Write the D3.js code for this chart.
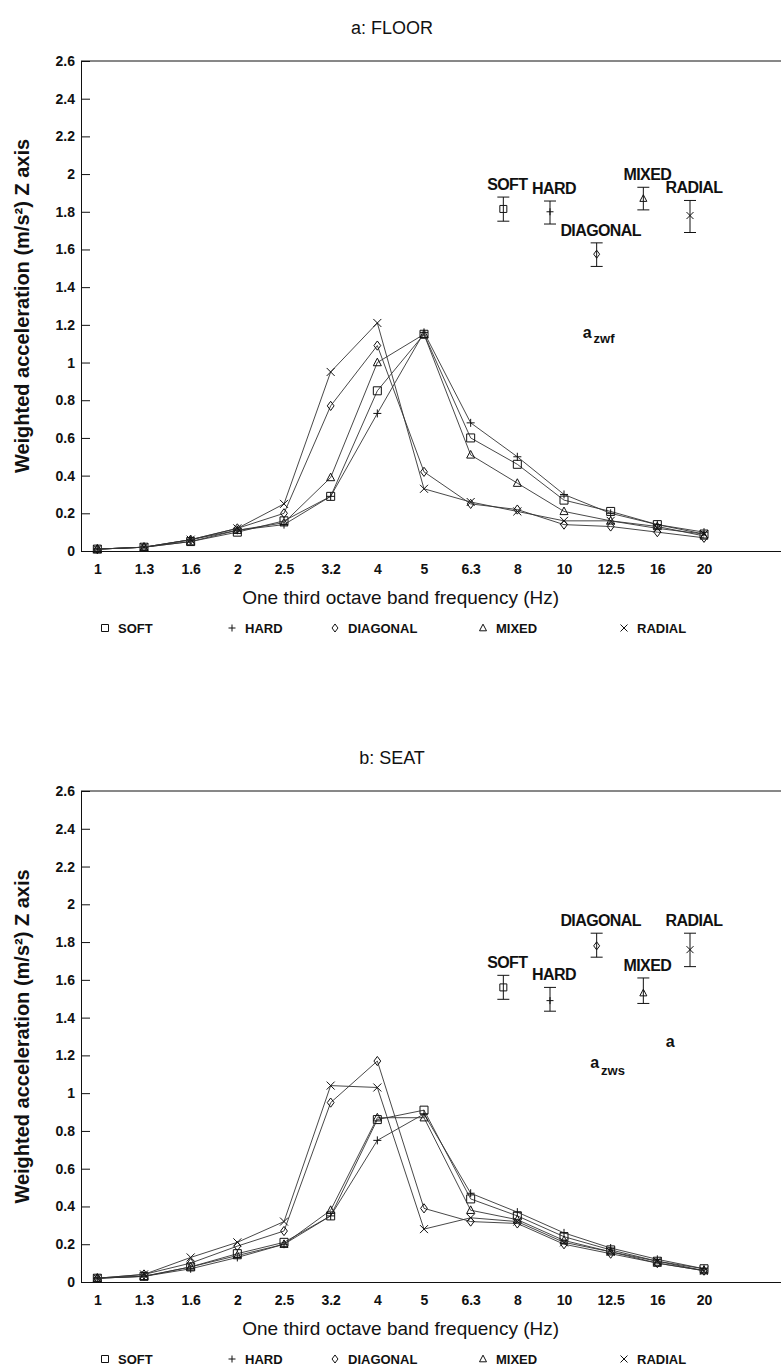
<!DOCTYPE html>
<html>
<head>
<meta charset="utf-8">
<script src="https://cdn.jsdelivr.net/npm/d3@7"></script>
<style>
  body { margin: 0; background: #fff; }
  svg { display: block; }
  text { font-family: "Liberation Sans", Arial, sans-serif; fill: #111; }
</style>
</head>
<body>
<svg id="chart" width="781" height="1368"></svg>
<script>
// one third octave band centre frequencies (Hz)
const categories = ["1", "1.3", "1.6", "2", "2.5", "3.2", "4", "5", "6.3", "8", "10", "12.5", "16", "20"];
const yTicks = [0, 0.2, 0.4, 0.6, 0.8, 1, 1.2, 1.4, 1.6, 1.8, 2, 2.2, 2.4, 2.6];
const seriesNames = ["SOFT", "HARD", "DIAGONAL", "MIXED", "RADIAL"];

// a: FLOOR
const floorSoft     = [0.01, 0.02, 0.05, 0.10, 0.16, 0.29, 0.85, 1.15, 0.60, 0.46, 0.27, 0.21, 0.14, 0.09];
const floorHard     = [0.01, 0.02, 0.06, 0.11, 0.14, 0.29, 0.73, 1.16, 0.68, 0.50, 0.30, 0.20, 0.14, 0.10];
const floorDiagonal = [0.01, 0.02, 0.06, 0.12, 0.20, 0.77, 1.09, 0.42, 0.25, 0.22, 0.14, 0.13, 0.10, 0.07];
const floorMixed    = [0.01, 0.02, 0.05, 0.11, 0.15, 0.39, 1.00, 1.15, 0.51, 0.36, 0.21, 0.16, 0.13, 0.08];
const floorRadial   = [0.01, 0.02, 0.06, 0.12, 0.25, 0.95, 1.21, 0.33, 0.26, 0.21, 0.16, 0.16, 0.12, 0.09];
const floorMean = [1.815, 1.80, 1.575, 1.87, 1.78];
const floorLow  = [1.75, 1.735, 1.51, 1.81, 1.69];
const floorHigh = [1.878, 1.857, 1.635, 1.93, 1.86];

// b: SEAT
const seatSoft     = [0.02, 0.03, 0.08, 0.15, 0.21, 0.35, 0.86, 0.91, 0.44, 0.35, 0.24, 0.17, 0.11, 0.07];
const seatHard     = [0.02, 0.03, 0.07, 0.13, 0.20, 0.35, 0.75, 0.89, 0.47, 0.37, 0.26, 0.18, 0.12, 0.07];
const seatDiagonal = [0.02, 0.04, 0.10, 0.19, 0.27, 0.95, 1.17, 0.39, 0.32, 0.31, 0.20, 0.15, 0.10, 0.06];
const seatMixed    = [0.02, 0.03, 0.08, 0.14, 0.20, 0.38, 0.87, 0.87, 0.38, 0.33, 0.22, 0.16, 0.10, 0.06];
const seatRadial   = [0.02, 0.04, 0.13, 0.21, 0.32, 1.04, 1.03, 0.28, 0.34, 0.32, 0.21, 0.16, 0.11, 0.06];
const seatMean = [1.56, 1.49, 1.78, 1.53, 1.76];
const seatLow  = [1.497, 1.434, 1.72, 1.475, 1.67];
const seatHigh = [1.624, 1.56, 1.847, 1.61, 1.847];

const svg = d3.select('#chart');
const left = 81;
const right = 781;
const x = d3.scaleLinear().domain([-0.35, 14.65]).range([left, right]);
const ink = '#111';

// marker shapes, one per series
const markers = [
  (s) => `M${-s},${-s}H${s}V${s}H${-s}Z`,
  (s) => `M${-s},0H${s}M0,${-s}V${s}`,
  (s) => `M0,${-s * 1.15}L${s * 0.85},0L0,${s * 1.15}L${-s * 0.85},0Z`,
  (s) => `M0,${-s * 1.1}L${s},${s * 0.8}H${-s}Z`,
  (s) => `M${-s},${-s}L${s},${s}M${-s},${s}L${s},${-s}`
];

function marker(g, i, cx, cy, s) {
  g.append('path')
    .attr('d', markers[i](s))
    .attr('transform', `translate(${cx},${cy})`)
    .attr('fill', 'none')
    .attr('stroke', ink)
    .attr('stroke-width', 1);
}

function renderPanel(title, yTop, yZero, series, mean, low, high, notes) {
  const y = d3.scaleLinear().domain([0, 2.6]).range([yZero, yTop]);
  const g = svg.append('g');

  g.append('text')
    .attr('x', 392)
    .attr('y', yTop - 27)
    .attr('text-anchor', 'middle')
    .style('font-size', '18px')
    .text(title);

  g.append('line')
    .attr('x1', left).attr('x2', right)
    .attr('y1', yTop).attr('y2', yTop)
    .attr('stroke', ink).attr('stroke-width', 1);

  const yAxis = g.append('g')
    .attr('transform', `translate(${left},0)`)
    .call(d3.axisLeft(y).tickValues(yTicks).tickSizeInner(-9).tickSizeOuter(0).tickPadding(6)
      .tickFormat(d3.format('~g')));

  const xAxis = g.append('g')
    .attr('transform', `translate(0,${yZero})`)
    .call(d3.axisBottom(x).tickValues(d3.range(categories.length)).tickSize(0).tickPadding(13)
      .tickFormat(i => categories[i]));

  [yAxis, xAxis].forEach(a => {
    a.attr('font-family', null).attr('font-size', null);
    a.selectAll('path, line').attr('stroke', ink);
    a.selectAll('text').style('font-size', '14px').style('font-weight', 'bold').attr('fill', ink);
  });

  g.append('text')
    .attr('x', x(6.5))
    .attr('y', yZero + 53)
    .attr('text-anchor', 'middle')
    .style('font-size', '19px')
    .text('One third octave band frequency (Hz)');

  g.append('text')
    .attr('transform', `translate(29,${(yTop + yZero) / 2}) rotate(-90)`)
    .attr('text-anchor', 'middle')
    .style('font-size', '20px')
    .style('font-weight', 'bold')
    .text('Weighted acceleration (m/s²) Z axis');

  const line = d3.line().x((d, i) => x(i)).y(d => y(d));

  series.forEach((values, s) => {
    g.append('path')
      .attr('d', line(values))
      .attr('fill', 'none')
      .attr('stroke', '#333')
      .attr('stroke-width', 0.9);
    values.forEach((v, i) => marker(g, s, x(i), y(v), 4));
  });

  // overall weighted values with spread
  mean.forEach((m, i) => {
    const cx = x(8.7 + i);
    g.append('line')
      .attr('x1', cx).attr('x2', cx)
      .attr('y1', y(low[i])).attr('y2', y(high[i]))
      .attr('stroke', ink);
    [low[i], high[i]].forEach(v => {
      g.append('line')
        .attr('x1', cx - 6).attr('x2', cx + 6)
        .attr('y1', y(v)).attr('y2', y(v))
        .attr('stroke', ink);
    });
    marker(g, i, cx, y(m), 3.5);
    g.append('text')
      .attr('x', cx + 4)
      .attr('y', y(high[i]) - 7)
      .attr('text-anchor', 'middle')
      .style('font-size', '16px')
      .style('font-weight', 'bold')
      .style('letter-spacing', '-0.6px')
      .text(seriesNames[i]);
  });

  notes.forEach(n => {
    const t = g.append('text')
      .attr('x', x(n.at))
      .attr('y', y(n.v))
      .style('font-size', '16px')
      .style('font-weight', 'bold')
      .text(n.text);
    if (n.sub) {
      t.append('tspan')
        .attr('dx', 2)
        .attr('dy', n.shift)
        .style('font-size', '13px')
        .text(n.sub);
    }
  });

  const legendX = [105, 232, 335, 483, 624];
  const ly = yZero + 77;
  seriesNames.forEach((name, i) => {
    marker(g, i, legendX[i], ly, 3.5);
    g.append('text')
      .attr('x', legendX[i] + 13)
      .attr('y', ly + 5)
      .style('font-size', '13px')
      .style('font-weight', 'bold')
      .text(name);
  });
}

renderPanel('a: FLOOR', 61, 551,
  [floorSoft, floorHard, floorDiagonal, floorMixed, floorRadial],
  floorMean, floorLow, floorHigh,
  [{ text: 'a', sub: 'zwf', shift: 5, at: 10.4, v: 1.13 }]);

renderPanel('b: SEAT', 791, 1282,
  [seatSoft, seatHard, seatDiagonal, seatMixed, seatRadial],
  seatMean, seatLow, seatHigh,
  [{ text: 'a', at: 12.18, v: 1.243 },
   { text: 'a', sub: 'zws', shift: 7, at: 10.56, v: 1.135 }]);
</script>
</body>
</html>
